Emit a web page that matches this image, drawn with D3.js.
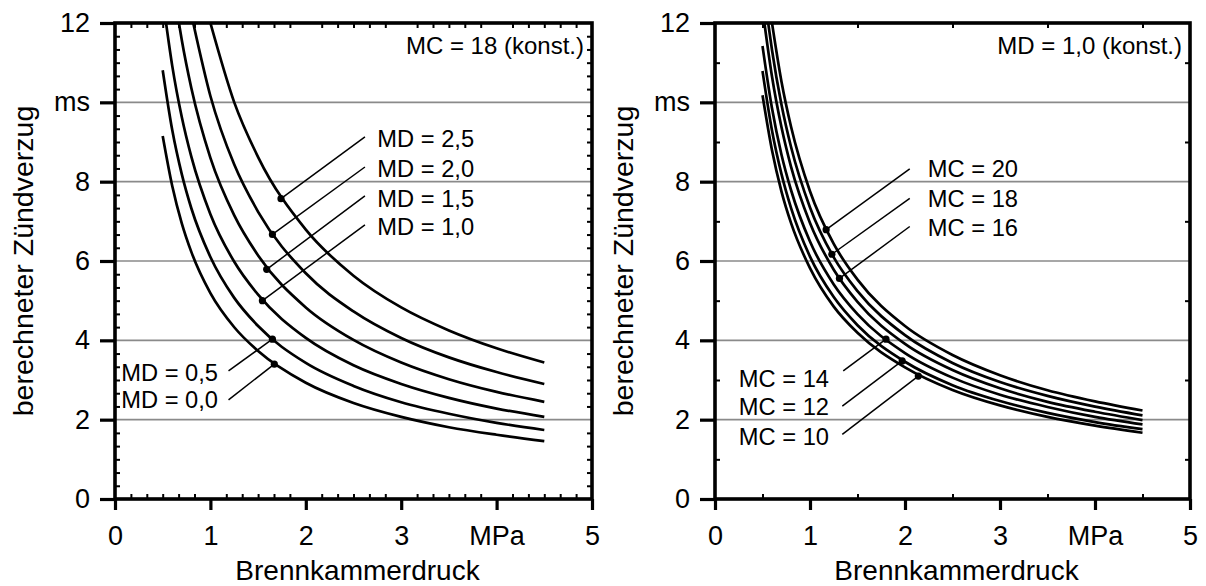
<!DOCTYPE html>
<html>
<head>
<meta charset="utf-8">
<script src="https://cdn.jsdelivr.net/npm/d3@7"></script>
<style>
  body { margin: 0; background: #fff; }
  svg { display: block; }
  text { font-family: "Liberation Sans", Arial, Helvetica, sans-serif; fill: #000; }
</style>
</head>
<body>
<svg id="chart" width="1206" height="586"></svg>
<script>
// ---- axis ticks -------------------------------------------------------
const xTickValues = [0, 1, 2, 3, 4, 5];
const xTickLabels = ["0", "1", "2", "3", "MPa", "5"];
const yTickValues = [0, 2, 4, 6, 8, 10, 12];
const yTickLabels = ["0", "2", "4", "6", "8", "ms", "12"];
const gridValues = [2, 4, 6, 8, 10];

// ---- shared pressure grid (MPa) ----------------------------------------
const pressure = [0.5, 0.6, 0.7, 0.8, 1.0, 1.25, 1.5, 2.0, 2.5, 3.0, 3.5, 4.0, 4.5];

// ---- left: MC = 18 constant, varying MD (ignition delay in ms) ---------
const mdLabels = ["MD = 0,0", "MD = 0,5", "MD = 1,0", "MD = 1,5", "MD = 2,0", "MD = 2,5"];
const md00 = [9.15, 7.89, 6.95, 6.23, 5.19, 4.33, 3.73, 2.93, 2.42, 2.07, 1.81, 1.62, 1.46];
const md05 = [10.81, 9.30, 8.19, 7.33, 6.10, 5.07, 4.36, 3.43, 2.85, 2.44, 2.15, 1.92, 1.74];
const md10 = [null, 10.92, 9.63, 8.63, 7.18, 5.98, 5.15, 4.06, 3.37, 2.90, 2.55, 2.28, 2.07];
const md15 = [null, null, 11.57, 10.36, 8.60, 7.15, 6.14, 4.83, 4.01, 3.44, 3.02, 2.70, 2.45];
const md20 = [null, null, null, null, 10.16, 8.43, 7.24, 5.69, 4.73, 4.06, 3.57, 3.20, 2.90];
const md25 = [null, null, null, null, 12.0, 10.0, 8.62, 6.79, 5.63, 4.83, 4.25, 3.80, 3.44];
// pressure at which a curve leaves the top of the frame (12 ms)
const mdTopExit = [null, null, 0.535, 0.67, 0.82, 1.0];
// marked point on each curve
const mdMarkP = [1.67, 1.65, 1.545, 1.59, 1.65, 1.74];
const mdMarkV = [3.40, 4.03, 5.00, 5.79, 6.67, 7.57];

// ---- right: MD = 1,0 constant, varying MC ------------------------------
const mcLabels = ["MC = 10", "MC = 12", "MC = 14", "MC = 16", "MC = 18", "MC = 20"];
const mc10 = [10.18, 8.79, 7.75, 6.96, 5.82, 4.85, 4.19, 3.32, 2.75, 2.36, 2.07, 1.85, 1.67];
const mc12 = [10.79, 9.29, 8.19, 7.34, 6.11, 5.09, 4.38, 3.46, 2.87, 2.47, 2.17, 1.94, 1.76];
const mc14 = [11.42, 9.85, 8.68, 7.79, 6.49, 5.41, 4.66, 3.68, 3.06, 2.63, 2.32, 2.07, 1.88];
const mc16 = [null, 10.65, 9.37, 8.38, 6.96, 5.78, 4.97, 3.91, 3.25, 2.79, 2.45, 2.20, 1.99];
const mc18 = [null, 11.32, 9.94, 8.88, 7.35, 6.09, 5.24, 4.13, 3.43, 2.95, 2.60, 2.33, 2.11];
const mc20 = [null, null, 10.52, 9.39, 7.76, 6.43, 5.53, 4.36, 3.63, 3.12, 2.74, 2.46, 2.23];
const mcTopExit = [null, null, null, 0.52, 0.56, 0.60];
const mcMarkP = [2.14, 1.97, 1.80, 1.31, 1.23, 1.17];
const mcMarkV = [3.10, 3.48, 4.03, 5.56, 6.17, 6.79];

// ---- label placement (data units): [textP, textV, leaderP, leaderV, anchor]
const mdLabelPlace = [
  [1.08, 2.50, 1.19, 2.50, "end"],
  [1.08, 3.19, 1.19, 3.23, "end"],
  [2.75, 6.86, 2.62, 6.91, "start"],
  [2.75, 7.57, 2.62, 7.64, "start"],
  [2.75, 8.33, 2.62, 8.37, "start"],
  [2.75, 9.08, 2.62, 9.13, "start"]
];
const mcLabelPlace = [
  [1.20, 1.57, 1.34, 1.63, "end"],
  [1.20, 2.33, 1.34, 2.34, "end"],
  [1.20, 3.04, 1.35, 3.23, "end"],
  [2.24, 6.83, 2.05, 6.87, "start"],
  [2.24, 7.58, 2.05, 7.58, "start"],
  [2.24, 8.32, 2.05, 8.32, "start"]
];

const svg = d3.select("#chart");

function buildSeries(valueArrays, topExits) {
  return valueArrays.map((vals, i) => {
    const pts = [];
    if (topExits[i] != null) pts.push([topExits[i], 12]);
    vals.forEach((v, j) => { if (v != null) pts.push([pressure[j], v]); });
    return pts;
  });
}

function drawPanel(cfg) {
  const x = d3.scaleLinear().domain([0, 5]).range([cfg.left, cfg.right]);
  const y = d3.scaleLinear().domain([0, 12]).range([cfg.bottom, cfg.top]);
  const g = svg.append("g");

  // horizontal grid
  g.append("g").selectAll("line").data(gridValues).join("line")
    .attr("x1", cfg.left).attr("x2", cfg.right)
    .attr("y1", d => y(d)).attr("y2", d => y(d))
    .attr("stroke", "#8a8a8a").attr("stroke-width", 1.6);

  // minor ticks, pointing into the frame on all four sides
  const minorStyle = sel => {
    sel.select(".domain").remove();
    sel.selectAll("line").attr("stroke", "#000").attr("stroke-width", 2);
  };
  g.append("g").attr("transform", `translate(${cfg.left},0)`)
    .call(d3.axisLeft(y).tickValues(cfg.yMinor).tickSize(-5).tickFormat("")).call(minorStyle);
  g.append("g").attr("transform", `translate(${cfg.right},0)`)
    .call(d3.axisRight(y).tickValues(cfg.yMinor).tickSize(-5).tickFormat("")).call(minorStyle);
  g.append("g").attr("transform", `translate(0,${cfg.bottom})`)
    .call(d3.axisBottom(x).tickValues(cfg.xMinor).tickSize(-5).tickFormat("")).call(minorStyle);
  g.append("g").attr("transform", `translate(0,${cfg.top})`)
    .call(d3.axisTop(x).tickValues(cfg.xMinor).tickSize(-5).tickFormat("")).call(minorStyle);

  // major axes with labels
  const yAxis = g.append("g").attr("transform", `translate(${cfg.left},0)`)
    .call(d3.axisLeft(y).tickValues(yTickValues).tickSize(15).tickPadding(10)
      .tickFormat((d, i) => yTickLabels[i]));
  const xAxis = g.append("g").attr("transform", `translate(0,${cfg.bottom})`)
    .call(d3.axisBottom(x).tickValues(xTickValues).tickSize(11).tickPadding(16)
      .tickFormat((d, i) => xTickLabels[i]));
  [yAxis, xAxis].forEach(a => {
    a.select(".domain").remove();
    a.selectAll("line").attr("stroke", "#000").attr("stroke-width", 3.2);
    a.selectAll("text").attr("font-size", 27).attr("fill", "#000")
      .style("font-family", '"Liberation Sans", Arial, sans-serif');
  });

  // frame
  g.append("rect")
    .attr("x", cfg.left).attr("y", cfg.top)
    .attr("width", cfg.right - cfg.left).attr("height", cfg.bottom - cfg.top)
    .attr("fill", "none").attr("stroke", "#000").attr("stroke-width", 3.6);

  // curves, clipped to the frame
  const clipId = "clip-" + cfg.id;
  svg.append("clipPath").attr("id", clipId).append("rect")
    .attr("x", cfg.left).attr("y", cfg.top)
    .attr("width", cfg.right - cfg.left).attr("height", cfg.bottom - cfg.top);
  const line = d3.line().x(d => x(d[0])).y(d => y(d[1])).curve(d3.curveMonotoneX);
  g.append("g").attr("clip-path", `url(#${clipId})`)
    .selectAll("path").data(cfg.series).join("path")
    .attr("d", line).attr("fill", "none")
    .attr("stroke", "#000").attr("stroke-width", 2.7);

  // leader lines, markers and curve labels
  cfg.labels.forEach((lab, i) => {
    const [tp, tv, lp, lv, anchor] = cfg.place[i];
    g.append("line")
      .attr("x1", x(cfg.markP[i])).attr("y1", y(cfg.markV[i]))
      .attr("x2", x(lp)).attr("y2", y(lv))
      .attr("stroke", "#000").attr("stroke-width", 1.5);
    g.append("circle")
      .attr("cx", x(cfg.markP[i])).attr("cy", y(cfg.markV[i])).attr("r", 3.6)
      .attr("fill", "#000");
    g.append("text")
      .attr("x", x(tp)).attr("y", y(tv)).attr("dy", "0.35em")
      .attr("text-anchor", anchor).attr("font-size", 23.7)
      .text(lab);
  });

  // constant-parameter note in the upper right corner
  g.append("text")
    .attr("x", cfg.right - 8).attr("y", cfg.top + 31)
    .attr("text-anchor", "end").attr("font-size", 24)
    .text(cfg.note);

  // axis titles
  g.append("text")
    .attr("x", (cfg.left + cfg.right) / 2 + 4).attr("y", 580)
    .attr("text-anchor", "middle").attr("font-size", 28)
    .text("Brennkammerdruck");
  g.append("text")
    .attr("transform", `translate(${cfg.left - 82},${(cfg.top + cfg.bottom) / 2}) rotate(-90)`)
    .attr("text-anchor", "middle").attr("font-size", 28.5)
    .text("berechneter Zündverzug");
}

drawPanel({
  id: "md", left: 115, right: 592, top: 23, bottom: 499,
  xMinor: d3.range(1, 30).map(k => k / 6).filter(v => Math.abs(v - Math.round(v)) > 1e-6),
  yMinor: d3.range(1, 36).map(k => k / 3).filter(v => Math.abs(v / 2 - Math.round(v / 2)) > 1e-6),
  series: buildSeries([md00, md05, md10, md15, md20, md25], mdTopExit),
  labels: mdLabels, markP: mdMarkP, markV: mdMarkV, place: mdLabelPlace,
  note: "MC = 18 (konst.)"
});

drawPanel({
  id: "mc", left: 715, right: 1190, top: 23, bottom: 499,
  xMinor: [0.5, 1.5, 2.5, 3.5, 4.5],
  yMinor: [1, 3, 5, 7, 9, 11],
  series: buildSeries([mc10, mc12, mc14, mc16, mc18, mc20], mcTopExit),
  labels: mcLabels, markP: mcMarkP, markV: mcMarkV, place: mcLabelPlace,
  note: "MD = 1,0 (konst.)"
});
</script>
</body>
</html>
